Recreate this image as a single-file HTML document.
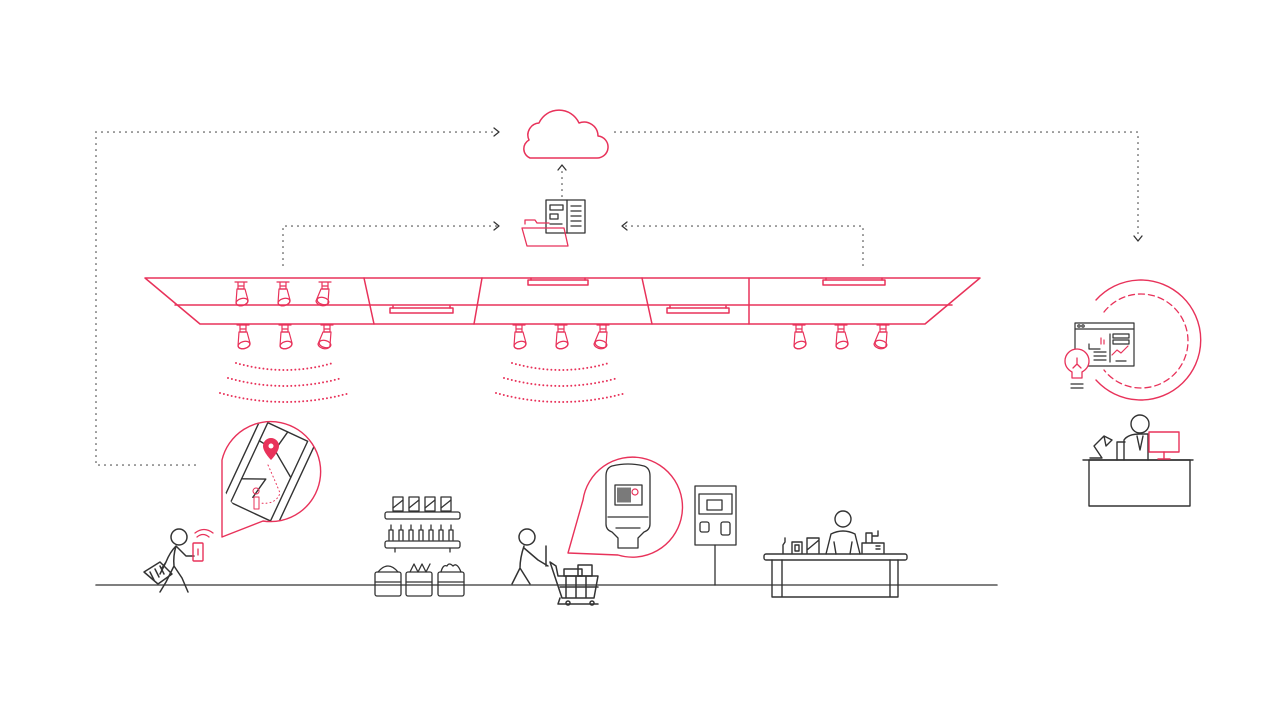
<!DOCTYPE html>
<html><head><meta charset="utf-8"><style>html,body{margin:0;padding:0;background:#fff}svg{display:block}</style></head>
<body>
<svg width="1280" height="720" viewBox="0 0 1280 720" xmlns="http://www.w3.org/2000/svg" fill="none" stroke-linecap="round" stroke-linejoin="round">
<defs>
<g id="spot"><path d="M-6 0h12M-3 0v4M3 0v4M-3 4h6v3h-6z"/><path d="M-4 7 h8 l3 11 a6 4 -15 0 1 -12 3z"/><ellipse cx="1" cy="20" rx="6" ry="3.5" transform="rotate(-15 1 20)"/></g>
<g id="spotL"><path d="M-6 0h12M-3 0v4M3 0v4M-3 4h6v3h-6z"/><path d="M-4 7 h8 l-1 13 a6 4 15 0 1 -12 -1z"/><ellipse cx="-2" cy="19" rx="6" ry="3.5" transform="rotate(15 -2 19)"/></g>
<clipPath id="c1"><circle cx="271" cy="472" r="50"/></clipPath>
</defs>
<g stroke="#333" stroke-width="1.6" stroke-dasharray="0 6">
<path d="M96 132H497M96 132V465H200"/>
<path d="M615 132H1138V238"/>
<path d="M562 196V168"/>
<path d="M283 265V226H497"/>
<path d="M863 265V226H625"/>
</g>
<g stroke="#333" stroke-width="1.3">
<path d="M494 128l5 4-5 4"/>
<path d="M1134 236l4 5 4-5"/>
<path d="M558 170l4-5 4 5"/>
<path d="M494 222l5 4-5 4"/>
<path d="M627 222l-5 4 5 4"/>
</g>
<path stroke="#e8325a" stroke-width="1.5" d="M530 158h66a11 11 0 0 0 2-22 14 14 0 0 0-19-13 22 22 0 0 0-40 0 12 12 0 0 0-10 17 10 10 0 0 0 1 18z"/>
<g stroke="#333" stroke-width="1.3">
<rect x="546" y="200" width="39" height="33"/>
<path d="M567 200v33M571 206h10M571 211h10M571 216h10M571 221h10M571 226h10"/>
<rect x="550" y="205" width="13" height="5"/><rect x="550" y="214" width="8" height="5"/><path d="M550 224h12"/>
</g>
<g stroke="#e8325a" stroke-width="1.3"><path d="M525 224v-4h10l2 3h12M522 228h42l4 18h-41z"/></g>
<g stroke="#e8325a" stroke-width="1.5">
<path d="M145 278H980L925 324H200Z"/>
<path d="M175 305H952"/>
<path d="M364 278L374 324M482 278L474 324M642 278L652 324M749 278V324"/>
<rect x="390" y="308" width="63" height="5"/><path d="M393 308v-2M450 308v-2"/>
<rect x="528" y="280" width="60" height="5"/><path d="M531 280v-2M585 280v-2"/>
<rect x="667" y="308" width="62" height="5"/><path d="M670 308v-2M726 308v-2"/>
<rect x="823" y="280" width="62" height="5"/><path d="M826 280v-2M882 280v-2"/>
<g stroke-width="1.2">
<use href="#spot" x="241" y="282"/><use href="#spot" x="283" y="282"/><use href="#spotL" x="325" y="282"/>
<use href="#spot" x="243" y="325"/><use href="#spot" x="285" y="325"/><use href="#spotL" x="327" y="325"/>
<use href="#spot" x="519" y="325"/><use href="#spot" x="561" y="325"/><use href="#spotL" x="603" y="325"/>
<use href="#spot" x="799" y="325"/><use href="#spot" x="841" y="325"/><use href="#spotL" x="883" y="325"/>
</g>
</g>
<g stroke="#e8325a" stroke-width="2" stroke-dasharray="0 4">
<path d="M236 363Q285 377 333 363M228 378Q285 394 342 378M220 393Q285 411 350 393"/>
<path d="M512 363Q561 377 609 363M504 378Q561 394 618 378M496 393Q561 411 626 393"/>
</g>
<path stroke="#555" stroke-width="1.6" d="M96 585H997"/>
<!-- bubble 1 -->
<g clip-path="url(#c1)" stroke="#333" stroke-width="1.4">
<g transform="rotate(25 270 470)">
<rect x="240" y="420" width="60" height="104" rx="3"/>
<rect x="248" y="428" width="44" height="88"/>
<path d="M248 448l18 2 26 18M266 450l4-22M248 490l22-10-4 22"/>
</g>
</g>
<path fill="#e8325a" d="M271 438a8 8 0 0 1 8 8c0 6-8 14-8 14s-8-8-8-14a8 8 0 0 1 8-8z"/>
<circle cx="271" cy="446" r="2.5" fill="#fff"/>
<path stroke="#e8325a" stroke-width="1" stroke-dasharray="1 3" d="M268 465q8 18 12 28-4 12-20 10"/>
<path stroke="#e8325a" stroke-width="1" d="M256 494a3 3 0 1 1 0.1 0M254 497h5v12h-5z"/>
<path stroke="#e8325a" stroke-width="1.4" d="M222 460A50 50 0 1 1 263 521L222 537Z"/>
<!-- walking man 1 -->
<g stroke="#333" stroke-width="1.5">
<circle cx="179" cy="537" r="8"/>
<path d="M176 546q-6 6-10 16l-6 12M176 546q-3 10-2 20l8 12 6 14M174 566l-8 16-6 10M176 546l10 10 8 0M166 562l-4 6"/>
<path d="M144 572l16-10 12 12-14 10z"/><path d="M150 572l4 8M155 569l4 8M160 566l4 8"/>
</g>
<rect x="193" y="543" width="10" height="18" rx="1" stroke="#e8325a" stroke-width="1.4"/>
<path stroke="#e8325a" stroke-width="1.3" d="M197 537q6-5 12 0M195 533q9-7 18 0M198 549v6"/>
<!-- shelf products -->
<g stroke="#333" stroke-width="1.3">
<rect x="385" y="512" width="75" height="7" rx="2"/>
<rect x="385" y="541" width="75" height="7" rx="2"/><path d="M395 548v4M450 548v4"/>
<rect x="393" y="497" width="10" height="14"/><rect x="409" y="497" width="10" height="14"/><rect x="425" y="497" width="10" height="14"/><rect x="441" y="497" width="10" height="14"/>
<path d="M393 508l10-8M409 508l10-8M425 508l10-8M441 508l10-8"/>
<path d="M389 540v-10h4v10M399 540v-10h4v10M409 540v-10h4v10M419 540v-10h4v10M429 540v-10h4v10M439 540v-10h4v10M449 540v-10h4v10M391 530v-5M401 530v-5M411 530v-5M421 530v-5M431 530v-5M441 530v-5M451 530v-5"/>
<rect x="375" y="572" width="26" height="24" rx="2"/><path d="M375 582h26"/>
<rect x="406" y="572" width="26" height="24" rx="2"/><path d="M406 582h26"/>
<rect x="438" y="572" width="26" height="24" rx="2"/><path d="M438 582h26"/>
<path d="M378 572q10-12 20 0M410 572l4-8 4 8 4-8 4 8 4-8M441 572q2-8 6-6 2-4 6 0 4-4 8 6"/>
</g>
<!-- man 2 with cart -->
<g stroke="#333" stroke-width="1.5">
<circle cx="527" cy="537" r="8"/>
<path d="M524 546q-4 12-4 22l-8 16M520 568l10 16M524 548l14 12 10 6M546 566v-20"/>
<path d="M550 562l6 4 2 10h40l-4 22h-32zM566 576v22M576 576v22M586 576v22M560 587h38M560 598l-2 6h40"/>
<rect x="564" y="569" width="18" height="7"/><rect x="578" y="565" width="14" height="11"/>
<circle cx="568" cy="603" r="2"/><circle cx="592" cy="603" r="2"/>
</g>
<path stroke="#e8325a" stroke-width="1.4" d="M583 500A50 50 0 1 1 618 555L568 553Z"/>
<g stroke="#333" stroke-width="1.3">
<path d="M612 466q16-4 32 0 6 2 6 10v48q0 6-6 8l-6 6v10h-20v-10l-6-6q-6-2-6-8v-48q0-8 6-10z"/>
<rect x="615" y="485" width="27" height="20"/><path d="M608 517h40M616 528h24"/>
<path d="M618 488v14M620 488v14M622 488v14M624 488v14M626 488v14M628 488v14M630 488v14"/>
</g>
<circle cx="635" cy="492" r="3" stroke="#e8325a" stroke-width="1.2"/>
<g stroke="#333" stroke-width="1.3">
<rect x="695" y="486" width="41" height="59"/><path d="M715 545v40"/>
<rect x="699" y="494" width="33" height="20"/><rect x="707" y="500" width="15" height="10"/>
<rect x="700" y="522" width="9" height="10" rx="2"/><rect x="721" y="522" width="9" height="13" rx="2"/>
</g>
<g stroke="#333" stroke-width="1.4">
<rect x="764" y="554" width="143" height="6" rx="2"/>
<path d="M772 560v37h126v-37M782 560v37M890 560v37"/>
<circle cx="843" cy="519" r="8"/>
<path d="M826 554l5-20q12-6 24 0l5 20M834 542l2 12M852 542l-2 12"/>
<path d="M783 553v-8l2-3v-4M792 553v-11h10v11M795 545h4v6h-4zM807 553v-15h12v15M807 550l12-10"/>
<path d="M862 553v-10h22v10M866 543v-10h6v10M872 536h6v-5M876 546h4M876 549h4"/>
</g>
<path stroke="#e8325a" stroke-width="1.4" d="M1096 300A60 60 0 1 1 1096 380"/>
<path stroke="#e8325a" stroke-width="1.3" stroke-dasharray="6 4" d="M1104 312A47 47 0 1 1 1104 370"/>
<g stroke="#333" stroke-width="1.2">
<rect x="1075" y="323" width="59" height="43" fill="#fff"/><path d="M1075 329h59M1110 334v28M1089 344v5h11M1094 352h12M1094 356h12M1094 360h12M1116 361h10"/>
<rect x="1113" y="334" width="16" height="4"/><rect x="1113" y="340" width="16" height="4"/>
<circle cx="1079" cy="326" r="1.2"/><circle cx="1083" cy="326" r="1.2"/>
</g>
<path stroke="#e8325a" stroke-width="1.2" d="M1101 344v-6M1104 344v-4M1112 355l5-5 4 3 7-7"/>
<path stroke="#e8325a" stroke-width="1.3" fill="#fff" d="M1072 378v-6q-7-4-7-11a12 12 0 0 1 24 0q0 7-7 11v6zM1073 368l4-4 4 4M1077 364v-6"/>
<path stroke="#333" stroke-width="1.2" d="M1071 384h12M1071 388h12"/>
<g stroke="#333" stroke-width="1.4">
<rect x="1089" y="460" width="101" height="46"/><path d="M1083 460h110"/>
<circle cx="1140" cy="424" r="9"/>
<path d="M1124 460v-20q4-6 16-6h8v26M1117 460v-18h8M1137 436l3 14 3-14"/>
<path d="M1090 458h12l-8-12 10-10M1104 436l8 4-6 6z"/>
</g>
<g stroke="#e8325a" stroke-width="1.4"><rect x="1149" y="432" width="30" height="20"/><path d="M1164 452v6M1158 459h12"/></g>
</svg>
</body></html>
